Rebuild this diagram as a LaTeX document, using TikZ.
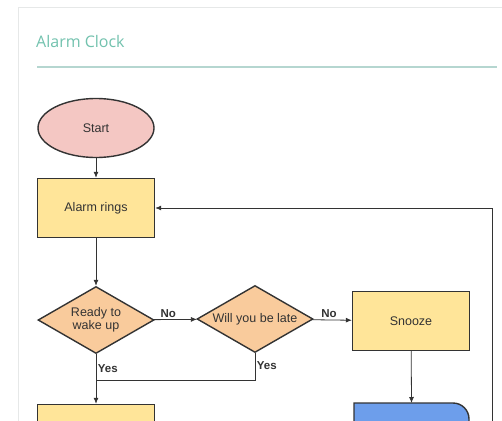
\documentclass[tikz,border=0pt]{standalone}
\usepackage{fontspec}
\setmainfont{Liberation Sans}
\newfontfamily\headfont{Open Sans}
\usetikzlibrary{shapes.geometric,arrows.meta}

\definecolor{cardline}{HTML}{E6E8E8}
\definecolor{headteal}{HTML}{72C2AE}
\definecolor{rulecol}{HTML}{B5D6D0}
\definecolor{inkcol}{HTML}{333333}
\definecolor{pinkfill}{HTML}{F4C7C3}
\definecolor{yellowfill}{HTML}{FFE599}
\definecolor{orangefill}{HTML}{F9CB9C}
\definecolor{bluefill}{HTML}{6D9EEB}

\tikzset{
  shapebase/.style={draw=inkcol, line width=1.4pt, inner sep=0pt, text=inkcol,
                    font=\fontsize{12.5}{13.5}\selectfont, align=center},
  terminal/.style={shapebase, ellipse, fill=pinkfill, minimum width=116pt, minimum height=59pt},
  process/.style={shapebase, rectangle, fill=yellowfill, minimum width=117pt, minimum height=59pt},
  decision/.style={shapebase, diamond, aspect=1.75, fill=orangefill, minimum width=116pt, minimum height=67pt},
  flow/.style={draw=inkcol, line width=0.8pt, -{Latex[length=6pt,width=5pt]}},
  link/.style={draw=inkcol, line width=0.8pt},
  lbl/.style={font=\bfseries\fontsize{11.5}{12}\selectfont, text=inkcol, inner sep=1.5pt},
}

\begin{document}
\begin{tikzpicture}[x=1pt,y=-1pt]
\useasboundingbox (0,0) rectangle (502,420);
\clip (0,0) rectangle (502,420);
\fill[white] (0,0) rectangle (502,420);

% card frame and heading
\draw[cardline, line width=1pt] (18,425) -- (18,8) -- (510,8);
\node[anchor=west, inner sep=0pt, text=headteal, font=\headfont\fontsize{16}{18}\selectfont] (head) at (36,42) {Alarm Clock};
\draw[rulecol, line width=1.2pt] (37,67) -- (497,67);

% flowchart nodes
\node[terminal] (start) at (96,128) {Start};
\node[process] (rings) at (96,208) {Alarm rings};
\node[decision] (ready) at (96,320) {Ready to\\wake up};
\node[decision] (late) at (255,319) {Will you be late};
\node[process] (snooze) at (411,321) {Snooze};
\node[process] (getup) at (96,434) {};

% display-style step, partly below the frame
\draw[draw=inkcol, line width=1.4pt, fill=bluefill]
  (354,440) -- (354,403) -- (453,403) arc[start angle=270, end angle=360, radius=16] -- (469,440) -- cycle;
\coordinate (show) at (411.5,403);

\coordinate (join) at (96,380);
\coordinate (loopfoot) at (492,440);

% connectors
\draw[flow] (start) -- (rings);
\draw[flow] (rings) -- (ready);
\draw[flow] (ready) -- node[lbl, above, pos=0.33] {No} (late);
\draw[flow] (late) -- node[lbl, above, pos=0.42] {No} (snooze);
\draw[flow] (ready) -- node[lbl, right, pos=0.3] {Yes} (getup);
\draw[link] (late.south) -- node[lbl, right, pos=0.45] {Yes} (late.south |- join) -- (join);
\draw[flow] (snooze) -- (show);
\draw[flow] (loopfoot) |- (rings);
\end{tikzpicture}
\end{document}
